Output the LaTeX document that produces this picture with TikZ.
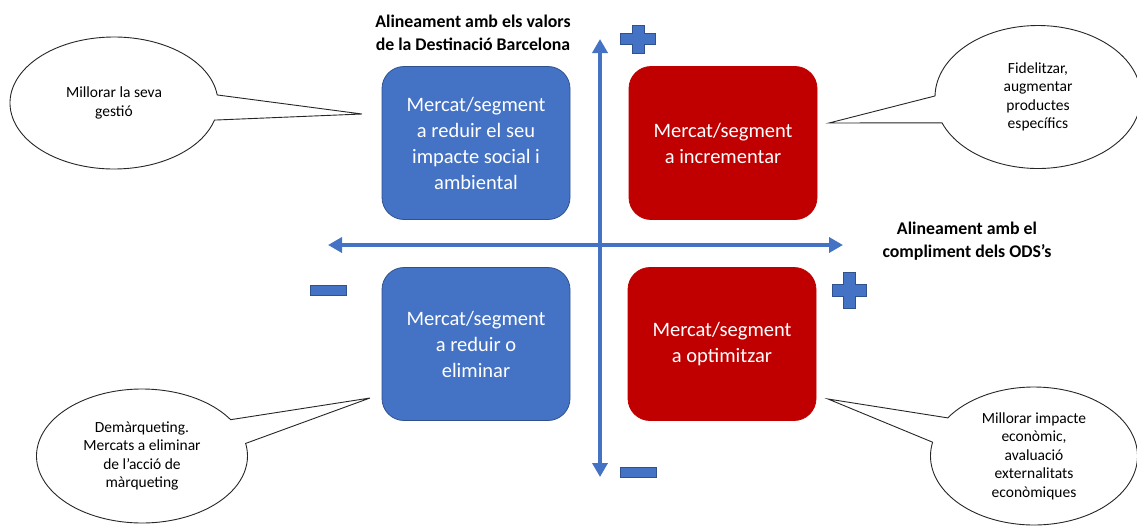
\documentclass[tikz,border=0pt]{standalone}
\usepackage{fontspec}
\setmainfont{Carlito}
\usetikzlibrary{shapes.callouts,arrows.meta}
\definecolor{obl}{HTML}{4472C4}
\definecolor{oblb}{HTML}{2F528F}
\definecolor{ored}{HTML}{C00000}
\tikzset{
  quad/.style={rounded corners=22pt, minimum width=188pt, minimum height=153pt, inner sep=0pt,
    align=center, text=white, font=\fontsize{20.5}{26}\selectfont, line width=0.8pt},
  bluequad/.style={quad, fill=obl, draw=oblb},
  redquad/.style={quad, fill=ored, draw=ored},
  bubble/.style={ellipse callout, draw=black!85, fill=white, line width=0.9pt, inner sep=0pt,
    align=center, font=\fontsize{15.5}{18.5}\selectfont, callout pointer arc=22},
  axis/.style={obl, line width=4pt, {Triangle[width=15pt,length=14pt]}-{Triangle[width=15pt,length=14pt]}},
  axlabel/.style={align=center, font=\bfseries\fontsize{17.8}{22.5}\selectfont},
  sign/.style={fill=obl, draw=oblb, line width=0.6pt}
}
\begin{document}
\begin{tikzpicture}[x=1pt,y=-1pt]
\useasboundingbox (0,0) rectangle (1137,525);
% axes
\coordinate (vtop) at (600,39);
\coordinate (vbot) at (600,477);
\coordinate (hl) at (328,245);
\coordinate (hr) at (843,245);
\draw[axis] (vbot) -- (vtop);
\draw[axis] (hl) -- (hr);
% quadrant boxes
\node[bluequad] (tl) at (476,143) {Mercat/segment\\a reduir el seu\\impacte social i\\ambiental};
\node[redquad] (tr) at (723,143) {Mercat/segment\\a incrementar};
\node[bluequad] (bl) at (476,344) {Mercat/segment\\a reduir o\\eliminar};
\node[redquad] (br) at (722,344) {Mercat/segment\\a optimitzar};
% axis labels
\node[axlabel] (vlab) at (473,33) {Alineament amb els valors\\de la Destinació Barcelona};
\node[axlabel] (hlab) at (967,241) {Alineament amb el\\compliment dels ODS’s};
% signs
\path[sign] (632,25) -- (644,25) -- (644,33) -- (655,33) -- (655,44) -- (644,44) -- (644,53) -- (632,53) -- (632,44) -- (620,44) -- (620,33) -- (632,33) -- cycle;
\path[sign] (843,272) -- (855,272) -- (855,284) -- (866,284) -- (866,296) -- (855,296) -- (855,308) -- (843,308) -- (843,296) -- (832,296) -- (832,284) -- (843,284) -- cycle;
\path[sign] (310,285) rectangle (346,295);
\path[sign] (620,467) rectangle (656,477);
% callouts
\node[bubble, minimum width=208pt, minimum height=132pt, callout absolute pointer={(362,114)}] (c1) at (114,103) {Millorar la seva\\gestió};
\node[bubble, minimum width=206pt, minimum height=143pt, callout absolute pointer={(829,123)}] (c2) at (1038,97) {Fidelitzar,\\augmentar\\productes\\específics};
\node[bubble, minimum width=211pt, minimum height=134pt, callout absolute pointer={(370,398)}] (c3) at (142,456) {Demàrqueting.\\Mercats a eliminar\\de l’acció de\\màrqueting};
\node[bubble, minimum width=207pt, minimum height=138pt, callout absolute pointer={(828,399)}] (c4) at (1034,456) {Millorar impacte\\econòmic,\\avaluació\\externalitats\\econòmiques};
\end{tikzpicture}
\end{document}
